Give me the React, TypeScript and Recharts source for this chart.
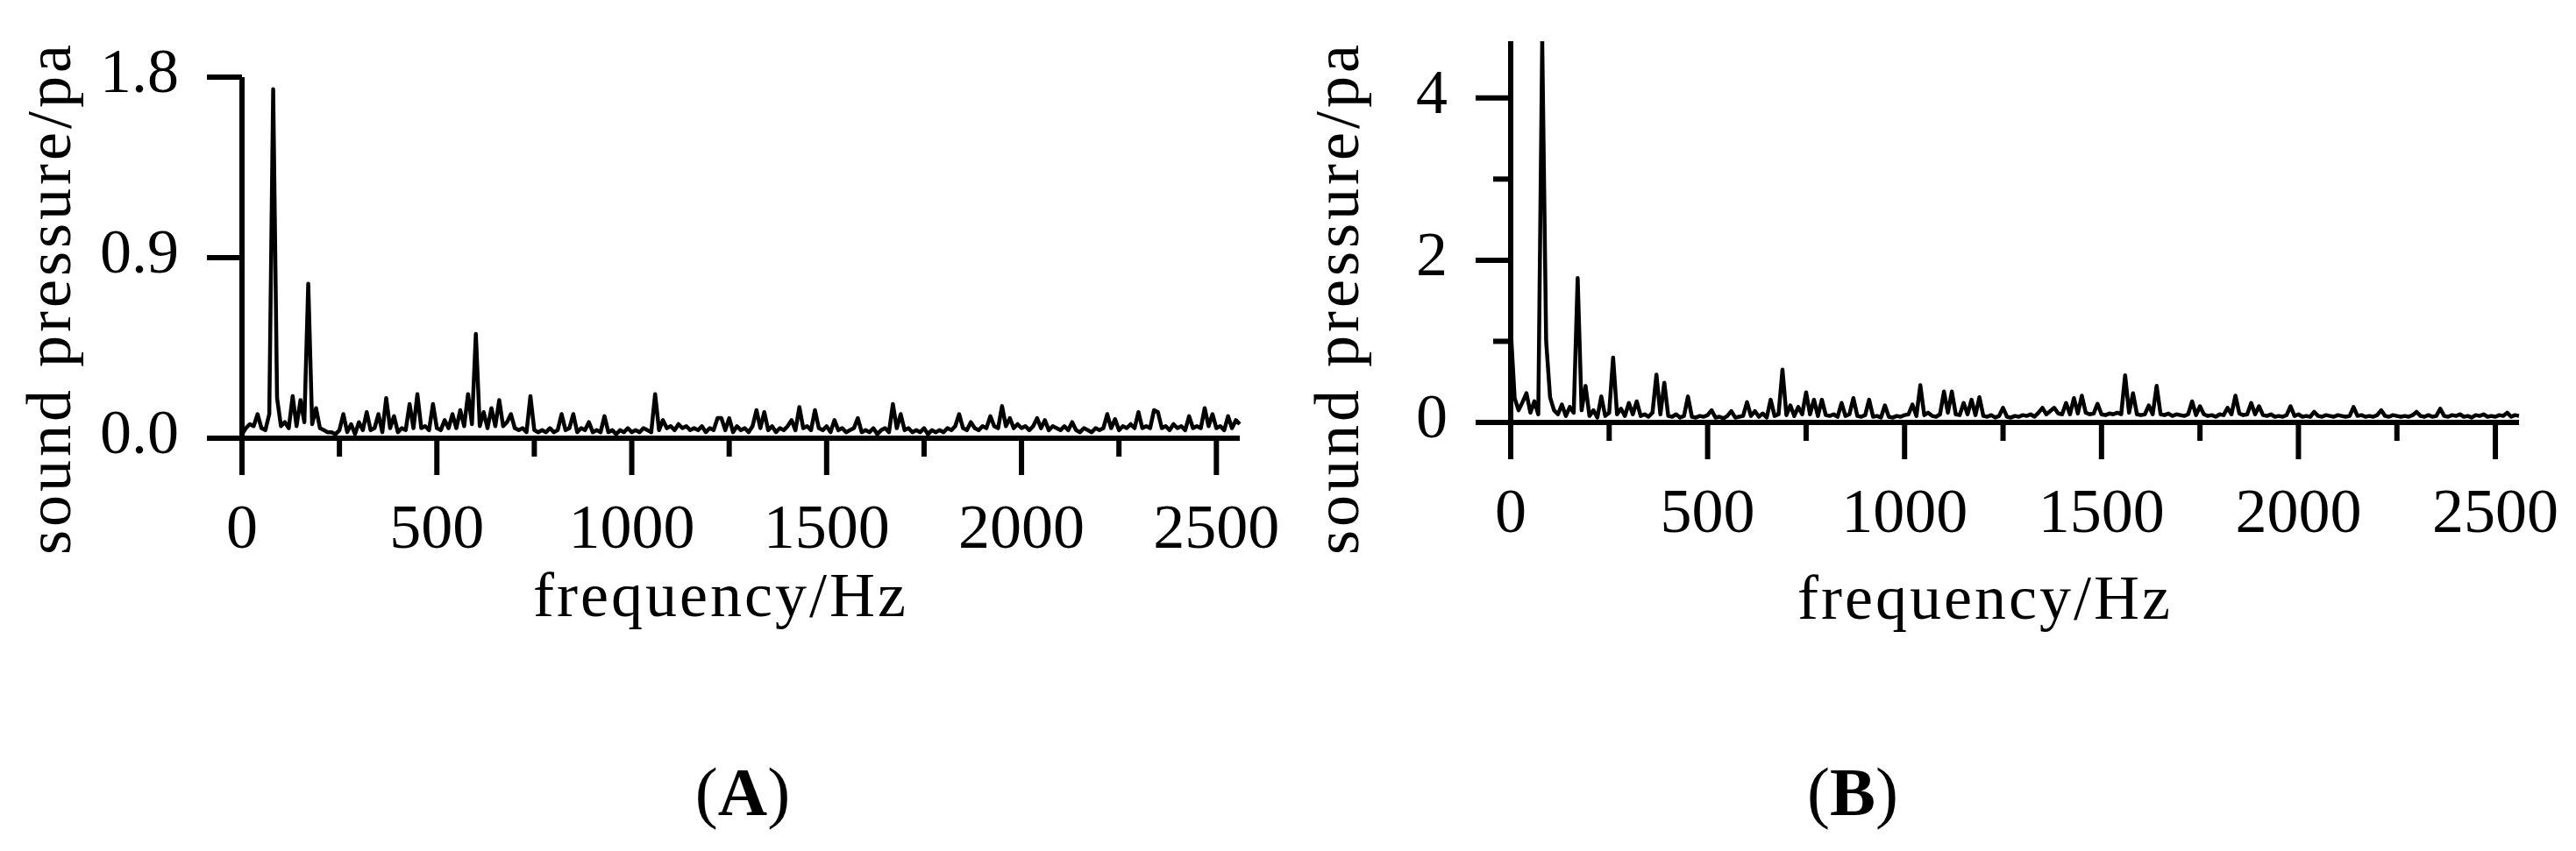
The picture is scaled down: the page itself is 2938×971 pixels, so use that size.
import { LineChart, Line, XAxis, YAxis } from 'recharts';

// sampling grid of the spectra (Hz between samples)
const freqStep = 10;

const xTicks = [0, 250, 500, 750, 1000, 1250, 1500, 1750, 2000, 2250, 2500];

// (A) sound pressure, pa — one value every 10 Hz from 0 to 2560 Hz
const pressureA = [
  0.02, 0.05, 0.07, 0.06, 0.12, 0.05, 0.04, 0.12, 1.74, 0.2, // 0-90
  0.06, 0.08, 0.05, 0.21, 0.06, 0.19, 0.08, 0.77, 0.07, 0.15, // 100-190
  0.05, 0.04, 0.03, 0.03, 0.02, 0.04, 0.12, 0.03, 0.07, 0.02, // 200-290
  0.08, 0.04, 0.13, 0.04, 0.05, 0.12, 0.03, 0.2, 0.05, 0.11,
  0.03, 0.05, 0.04, 0.17, 0.05, 0.22, 0.05, 0.06, 0.04, 0.17,
  0.05, 0.04, 0.09, 0.05, 0.12, 0.05, 0.14, 0.06, 0.22, 0.07,
  0.52, 0.06, 0.13, 0.05, 0.15, 0.06, 0.19, 0.06, 0.08, 0.12,
  0.05, 0.04, 0.05, 0.03, 0.21, 0.04, 0.03, 0.04, 0.03, 0.05,
  0.03, 0.04, 0.12, 0.04, 0.05, 0.12, 0.03, 0.05, 0.04, 0.08,
  0.03, 0.04, 0.03, 0.11, 0.03, 0.04, 0.02, 0.04, 0.03, 0.05,
  0.03, 0.04, 0.03, 0.05, 0.04, 0.03, 0.22, 0.04, 0.09, 0.05, // 1000
  0.06, 0.04, 0.07, 0.05, 0.06, 0.04, 0.05, 0.04, 0.06, 0.03,
  0.05, 0.04, 0.1, 0.1, 0.04, 0.1, 0.03, 0.06, 0.04, 0.05,
  0.03, 0.06, 0.14, 0.05, 0.13, 0.04, 0.06, 0.03, 0.05, 0.04,
  0.06, 0.09, 0.04, 0.155, 0.05, 0.06, 0.04, 0.14, 0.05, 0.04,
  0.06, 0.03, 0.09, 0.04, 0.05, 0.03, 0.04, 0.05, 0.1, 0.03, // 1500
  0.04, 0.03, 0.05, 0.02, 0.04, 0.05, 0.03, 0.17, 0.05, 0.12,
  0.04, 0.05, 0.03, 0.04, 0.03, 0.05, 0.02, 0.04, 0.03, 0.04,
  0.03, 0.05, 0.04, 0.06, 0.12, 0.05, 0.04, 0.08, 0.05, 0.04,
  0.06, 0.05, 0.11, 0.06, 0.05, 0.16, 0.06, 0.1, 0.05, 0.07,
  0.05, 0.06, 0.04, 0.06, 0.1, 0.05, 0.09, 0.04, 0.06, 0.05, // 2000
  0.04, 0.06, 0.04, 0.08, 0.04, 0.03, 0.05, 0.04, 0.03, 0.05,
  0.04, 0.05, 0.12, 0.05, 0.095, 0.04, 0.06, 0.05, 0.07, 0.05,
  0.13, 0.05, 0.06, 0.05, 0.14, 0.13, 0.05, 0.06, 0.04, 0.07,
  0.05, 0.06, 0.04, 0.11, 0.05, 0.06, 0.05, 0.15, 0.06, 0.12,
  0.05, 0.06, 0.04, 0.11, 0.05, 0.09, 0.07, // 2500-2560
];

// (B) sound pressure, pa — same grid
const pressureB = [
  1.16, 0.3, 0.15, 0.25, 0.36, 0.12, 0.26, 0.1, 4.7, 1.0, // 0-90
  0.31, 0.15, 0.1, 0.22, 0.08, 0.19, 0.12, 1.78, 0.15, 0.45,
  0.08, 0.15, 0.06, 0.32, 0.08, 0.12, 0.8, 0.1, 0.17, 0.08,
  0.24, 0.1, 0.26, 0.08, 0.1, 0.07, 0.12, 0.59, 0.1, 0.49,
  0.08, 0.07, 0.1, 0.06, 0.08, 0.32, 0.07, 0.06, 0.08, 0.07,
  0.09, 0.15, 0.06, 0.07, 0.05, 0.08, 0.14, 0.06, 0.07, 0.08, // 500
  0.25, 0.08, 0.14, 0.07, 0.11, 0.06, 0.28, 0.08, 0.1, 0.65,
  0.09, 0.21, 0.08, 0.19, 0.1, 0.37, 0.1, 0.28, 0.08, 0.28,
  0.09, 0.08, 0.1, 0.07, 0.24, 0.08, 0.1, 0.3, 0.08, 0.07,
  0.09, 0.28, 0.07, 0.08, 0.06, 0.21, 0.07, 0.06, 0.08, 0.07,
  0.09, 0.1, 0.22, 0.08, 0.46, 0.09, 0.12, 0.08, 0.07, 0.1, // 1000
  0.38, 0.12, 0.38, 0.1, 0.09, 0.24, 0.1, 0.28, 0.09, 0.31,
  0.08, 0.07, 0.09, 0.06, 0.08, 0.18, 0.07, 0.06, 0.08, 0.07,
  0.09, 0.08, 0.1, 0.07, 0.12, 0.18, 0.1, 0.14, 0.18, 0.11,
  0.1, 0.24, 0.1, 0.3, 0.11, 0.33, 0.12, 0.1, 0.11, 0.23,
  0.1, 0.09, 0.11, 0.1, 0.12, 0.1, 0.58, 0.12, 0.36, 0.1, // 1500
  0.09, 0.1, 0.21, 0.1, 0.45, 0.1, 0.09, 0.11, 0.08, 0.1,
  0.09, 0.08, 0.1, 0.26, 0.09, 0.2, 0.1, 0.08, 0.09, 0.07,
  0.1, 0.09, 0.18, 0.1, 0.33, 0.11, 0.09, 0.1, 0.24, 0.1,
  0.2, 0.09, 0.08, 0.1, 0.07, 0.08, 0.07, 0.09, 0.2, 0.08,
  0.1, 0.07, 0.08, 0.07, 0.13, 0.08, 0.07, 0.09, 0.08, 0.07, // 2000
  0.09, 0.08, 0.07, 0.08, 0.19, 0.08, 0.09, 0.07, 0.08, 0.07,
  0.09, 0.15, 0.08, 0.07, 0.09, 0.08, 0.07, 0.08, 0.07, 0.09,
  0.13, 0.08, 0.07, 0.09, 0.07, 0.08, 0.17, 0.08, 0.07, 0.09,
  0.08, 0.1, 0.07, 0.08, 0.06, 0.09, 0.08, 0.1, 0.07, 0.08,
  0.07, 0.09, 0.08, 0.12, 0.07, 0.09, 0.08, // 2500-2560
];

const yTicksA = [0, 0.9, 1.8];
const yTicksB = [0, 1, 2, 3, 4];

const toRows = (values: number[]) => values.map((v, i) => ({ f: i * freqStep, v }));
const dataA = toRows(pressureA);
const dataB = toRows(pressureB);

const FONT = "'Liberation Serif', 'Times New Roman', serif";

function XTick({ x, y, payload }: any) {
  const major = payload.value % 500 === 0;
  return (
    <g>
      <line x1={x} x2={x} y1={y} y2={y + (major ? 42 : 21)} stroke="#000" strokeWidth={6} />
      {major && (
        <text x={x} y={y + 125} textAnchor="middle" fontSize={72} fontFamily={FONT} fill="#000">
          {payload.value}
        </text>
      )}
    </g>
  );
}

function makeYTick(labelled: (v: number) => string | null) {
  return function YTick({ x, y, payload }: any) {
    const label = labelled(payload.value);
    return (
      <g>
        <line x1={x - (label !== null ? 40 : 20)} x2={x} y1={y} y2={y} stroke="#000" strokeWidth={6} />
        {label !== null && (
          <text x={x - 72} y={y + 17} textAnchor="end" fontSize={72} fontFamily={FONT} fill="#000">
            {label}
          </text>
        )}
      </g>
    );
  };
}

const YTickA = makeYTick((v) => v.toFixed(1));
const YTickB = makeYTick((v) => (v % 2 === 0 ? String(v) : null));

const axisLine = { stroke: '#000', strokeWidth: 6 };

export default function App() {
  return (
    <div style={{ position: 'absolute', left: 0, top: 0, width: 2938, height: 971, background: '#fff' }}>
      <div style={{ position: 'absolute', left: 0, top: 0 }}>
        <LineChart width={1470} height={971} data={dataA} margin={{ top: 88, right: 56, bottom: 271, left: 76 }}>
          <XAxis
            dataKey="f"
            type="number"
            domain={[0, 2560]}
            ticks={xTicks}
            interval={0}
            height={200}
            tickSize={0}
            tickMargin={0}
            tickLine={false}
            axisLine={axisLine}
            tick={(p: any) => <XTick {...p} />}
          />
          <YAxis
            type="number"
            domain={[0, 1.8]}
            ticks={yTicksA}
            interval={0}
            width={200}
            tickSize={0}
            tickMargin={0}
            tickLine={false}
            axisLine={axisLine}
            tick={(p: any) => <YTickA {...p} />}
          />
          <Line
            dataKey="v"
            type="linear"
            stroke="#000"
            strokeWidth={4.5}
            strokeLinejoin="round"
            dot={false}
            activeDot={false}
            isAnimationActive={false}
          />
        </LineChart>
      </div>
      <div style={{ position: 'absolute', left: 1470, top: 0 }}>
        <LineChart width={1468} height={971} data={dataB} margin={{ top: 47, right: 65, bottom: 289, left: 53 }}>
          <XAxis
            dataKey="f"
            type="number"
            domain={[0, 2560]}
            ticks={xTicks}
            interval={0}
            height={200}
            tickSize={0}
            tickMargin={0}
            tickLine={false}
            axisLine={axisLine}
            tick={(p: any) => <XTick {...p} />}
          />
          <YAxis
            type="number"
            domain={[0, 4.7]}
            ticks={yTicksB}
            interval={0}
            width={200}
            tickSize={0}
            tickMargin={0}
            tickLine={false}
            axisLine={axisLine}
            allowDataOverflow
            tick={(p: any) => <YTickB {...p} />}
          />
          <Line
            dataKey="v"
            type="linear"
            stroke="#000"
            strokeWidth={4.5}
            strokeLinejoin="round"
            dot={false}
            activeDot={false}
            isAnimationActive={false}
          />
        </LineChart>
      </div>
      <svg
        width={2938}
        height={971}
        style={{ position: 'absolute', left: 0, top: 0, pointerEvents: 'none' }}
        fontFamily={FONT}
        fill="#000"
      >
        <text x={80} y={340} fontSize={72} letterSpacing={4} textAnchor="middle" transform="rotate(-90 80 340)">
          sound pressure/pa
        </text>
        <text x={1549} y={340} fontSize={72} letterSpacing={4} textAnchor="middle" transform="rotate(-90 1549 340)">
          sound pressure/pa
        </text>
        <text x={822} y={703} fontSize={72} letterSpacing={3} textAnchor="middle">
          frequency/Hz
        </text>
        <text x={2264} y={706} fontSize={72} letterSpacing={3} textAnchor="middle">
          frequency/Hz
        </text>
        <text x={847} y={930} fontSize={78} textAnchor="middle">
          (<tspan fontWeight="bold">A</tspan>)
        </text>
        <text x={2113} y={930} fontSize={78} textAnchor="middle">
          (<tspan fontWeight="bold">B</tspan>)
        </text>
      </svg>
    </div>
  );
}
